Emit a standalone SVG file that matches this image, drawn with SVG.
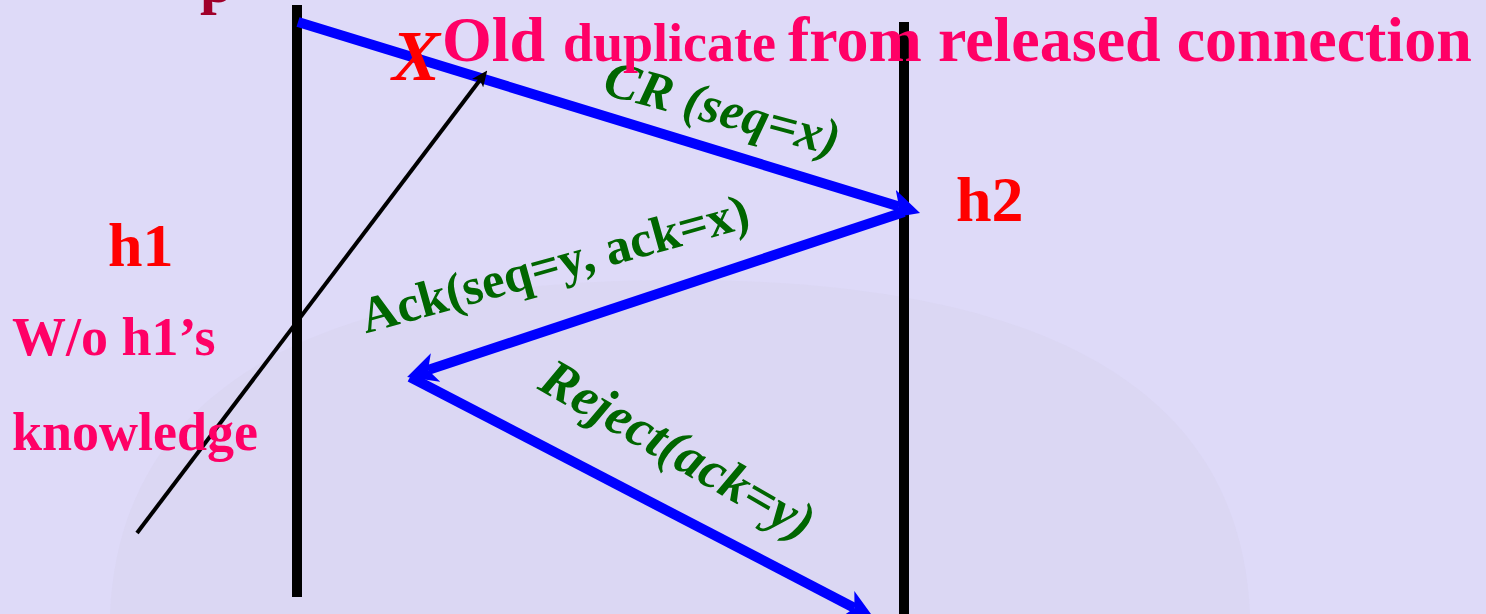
<svg xmlns="http://www.w3.org/2000/svg" width="1486" height="614" viewBox="0 0 1486 614">
<style>
text{font-family:"Liberation Serif","Times New Roman",serif;font-weight:bold}
.pink{fill:#FF0066}
.red{fill:#FF0000}
.green{fill:#006600}
.it{font-style:italic}
.life{stroke:#000;stroke-width:10;fill:none}
.msg{stroke:#0000FF;stroke-width:10;fill:none;marker-end:url(#bh)}
</style>
<defs>
<marker id="bh" markerUnits="userSpaceOnUse" viewBox="0 0 30 30" markerWidth="30" markerHeight="30" refX="8" refY="15" orient="auto">
<path d="M0,0 L30,15 L0,30 L8,15 Z" fill="#0000FF"/>
</marker>
<marker id="kh" markerUnits="userSpaceOnUse" viewBox="0 0 16 14" markerWidth="16" markerHeight="14" refX="4" refY="7" orient="auto">
<path d="M0,0 L16,7 L0,14 L4,7 Z" fill="#000"/>
</marker>
</defs>
<rect width="1486" height="614" fill="#DEDAF8"/>
<path d="M110,614 C120,380 330,280 680,280 C1030,280 1240,380 1250,614 Z" fill="#D6D2EE" opacity="0.45"/>
<text x="200" y="2" font-size="60" fill="#A0002A">p</text>
<g id="h1-lifeline"><line class="life" x1="297" y1="5" x2="297" y2="597"/></g>
<g id="h2-lifeline"><line class="life" x1="904" y1="22" x2="904" y2="614"/></g>
<g id="connectors">
<line class="msg" x1="298" y1="22" x2="899" y2="206.5"/>
<line class="msg" x1="904" y1="212" x2="428" y2="370"/>
<line class="msg" x1="410" y1="377" x2="854.5" y2="608"/>
<line x1="137" y1="533" x2="480" y2="80" stroke="#000" stroke-width="4" marker-end="url(#kh)"/>
</g>
<g id="labels">
<text x="718" y="125" font-size="52" class="green it" text-anchor="middle" transform="rotate(15 718 125)">CR (seq=x)</text>
<text x="559" y="280" font-size="51" class="green" text-anchor="middle" transform="rotate(-15.5 559 280)">Ack(seq=y, ack=x)</text>
<text x="669" y="465" font-size="54" class="green it" text-anchor="middle" transform="rotate(30 669 465)">Reject(ack=y)</text>
</g>
<g id="h1"><text x="108" y="266" font-size="62" class="red">h1</text></g>
<g id="h2"><text x="956" y="221" font-size="64" class="red">h2</text></g>
<g id="note"><text x="12" y="355" font-size="54" class="pink">W/o h1’s</text>
<text x="12" y="450" font-size="54" class="pink">knowledge</text></g>
<g id="old-duplicate">
<text x="392" y="80" font-size="72" class="red it">X</text>
<text y="61" class="pink"><tspan x="442" font-size="64">Old</tspan><tspan x="563" font-size="54">duplicate</tspan><tspan x="788" font-size="64">from released connection</tspan></text>
</g>
</svg>
